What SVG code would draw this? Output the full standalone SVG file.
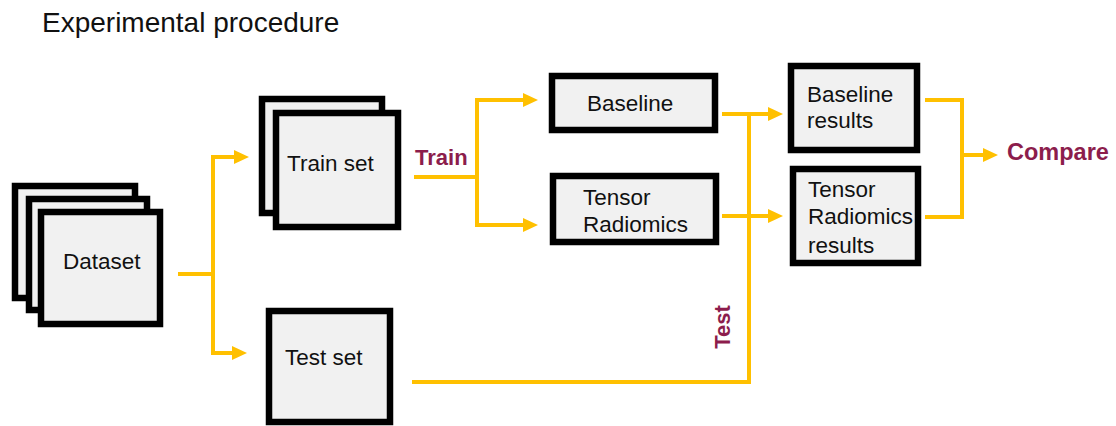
<svg xmlns="http://www.w3.org/2000/svg" width="1116" height="426" viewBox="0 0 1116 426">
<defs>
<marker id="ah" markerUnits="userSpaceOnUse" markerWidth="15" markerHeight="14" refX="0" refY="7" orient="auto" overflow="visible">
<path d="M0,0 L15,7 L0,14 z" fill="#FFC000"/>
</marker>
</defs>
<style>
.box{fill:#f1f1f1;stroke:#000;stroke-width:6.5}
.t{font-family:"Liberation Sans",Arial,sans-serif;font-size:22.5px;fill:#111}
.lbl{font-family:"Liberation Sans",Arial,sans-serif;font-size:22px;font-weight:bold;fill:#8C1D4C}
.c{fill:none;stroke:#FFC000;stroke-width:4}
.ca{fill:none;stroke:#FFC000;stroke-width:4;marker-end:url(#ah)}
</style>
<rect width="1116" height="426" fill="#fff"/>
<text x="42" y="32" font-family="Liberation Sans, Arial, sans-serif" font-size="28" fill="#111">Experimental procedure</text>

<g id="connectors">
<path class="ca" d="M178,274 H213 V157 H234"/>
<path class="ca" d="M213,274 V353 H232"/>
<path class="ca" d="M414,177 H477 V100 H523"/>
<path class="ca" d="M477,177 V225 H523"/>
<path class="ca" d="M722,114 H768"/>
<path class="ca" d="M722,216 H768"/>
<path class="c" d="M412,382 H749 V114"/>
<path class="c" d="M925,100 H962 V217 H925"/>
<path class="ca" d="M962,155 H983"/>
<text class="lbl" x="415" y="165">Train</text>
<text class="lbl" transform="translate(730,327) rotate(-90)" text-anchor="middle">Test</text>
</g>

<g id="dataset">
<rect class="box" x="15" y="186" width="120" height="112"/>
<rect class="box" x="29" y="199" width="118" height="111"/>
<rect class="box" x="41" y="212" width="119" height="112"/>
<text class="t" x="63" y="269">Dataset</text>
</g>

<g id="train-set">
<rect class="box" x="262" y="99" width="120" height="114"/>
<rect class="box" x="276" y="113" width="122" height="114"/>
<text class="t" x="287" y="171">Train set</text>
</g>

<g id="test-set">
<rect class="box" x="269" y="311" width="121" height="111"/>
<text class="t" x="285" y="365">Test set</text>
</g>

<g id="baseline">
<rect class="box" x="552" y="76" width="163" height="54"/>
<text class="t" x="587" y="111">Baseline</text>
</g>

<g id="tensor-radiomics">
<rect class="box" x="553" y="176" width="163" height="66"/>
<text class="t" x="583" y="205">Tensor</text>
<text class="t" x="583" y="232">Radiomics</text>
</g>

<g id="baseline-results">
<rect class="box" x="791" y="66" width="126" height="84"/>
<text class="t" x="807" y="102">Baseline</text>
<text class="t" x="807" y="128">results</text>
</g>

<g id="tensor-radiomics-results">
<rect class="box" x="793" y="169" width="125" height="94"/>
<text class="t" x="808" y="197">Tensor</text>
<text class="t" x="808" y="224">Radiomics</text>
<text class="t" x="808" y="253">results</text>
</g>

<g id="compare">
<text class="lbl" x="1007" y="160" style="font-size:23.5px">Compare</text>
</g>
</svg>
